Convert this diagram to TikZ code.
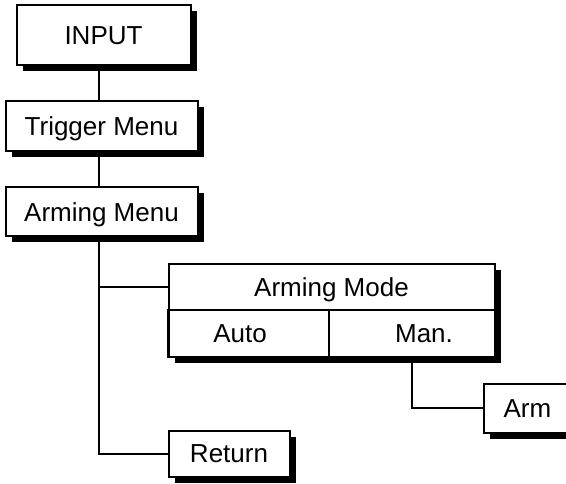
\documentclass[tikz,border=0pt]{standalone}
\usepackage{fontspec}
\setmainfont{Liberation Sans}
\usetikzlibrary{shadows}
\begin{document}
\begin{tikzpicture}[x=1pt,y=1pt,
  txt/.style={inner sep=0pt, text height=18.6pt, text depth=0pt, font=\fontsize{26}{30}\selectfont},
  box/.style={txt, draw, line width=2pt, fill=white},
  shadowed/.style={drop shadow={shadow xshift=6pt, shadow yshift=-6pt, fill=black, opacity=1}},
  cell/.style={draw, line width=2pt, inner sep=0pt},
  wire/.style={line width=2pt}]
\useasboundingbox (0,0) rectangle (566,-484);
\clip (0,0) rectangle (566,-484);
\coordinate (spine) at (99,0);
% boxes
\node[box, shadowed, minimum width=174pt, minimum height=60pt] (input) at (103.5,-35.5) {INPUT};
\node[box, shadowed, minimum width=192pt, minimum height=50pt] (trig) at (101.5,-126.5) {Trigger Menu};
\node[box, shadowed, minimum width=192pt, minimum height=49pt] (armmenu) at (101.5,-212) {Arming Menu};
\node[box, shadowed, minimum width=326pt, minimum height=93pt] (modebox) at (331.5,-310.5) {};
\node[cell, minimum width=326pt, minimum height=46pt] (modetitle) at (331.5,-287) {};
\node[cell, minimum width=161pt, minimum height=47pt] (auto) at (248.5,-333.5) {};
\node[cell, minimum width=166pt, minimum height=47pt] (man) at (412,-333.5) {};
\node[txt] (modetxt) at (331.5,-287) {Arming Mode};
\node[txt] (autotxt) at (240,-333.5) {Auto};
\node[txt] (mantxt) at (424,-333.5) {Man.};
\node[box, shadowed, minimum width=86pt, minimum height=48pt, text width=86pt, align=left] (arm) at (526.5,-408.5) {\hspace*{20pt}Arm};
\node[box, shadowed, minimum width=121pt, minimum height=46pt] (ret) at (229,-453.5) {Return};
% connectors
\draw[wire] (input.south -| spine) -- (trig.north -| spine);
\draw[wire] (trig.south -| spine) -- (armmenu.north -| spine);
\draw[wire] (armmenu.south -| spine) |- (ret.west);
\draw[wire] (spine |- modetitle.west) -- (modetitle.west);
\draw[wire] (man.south) |- (arm.west);
\end{tikzpicture}
\end{document}
